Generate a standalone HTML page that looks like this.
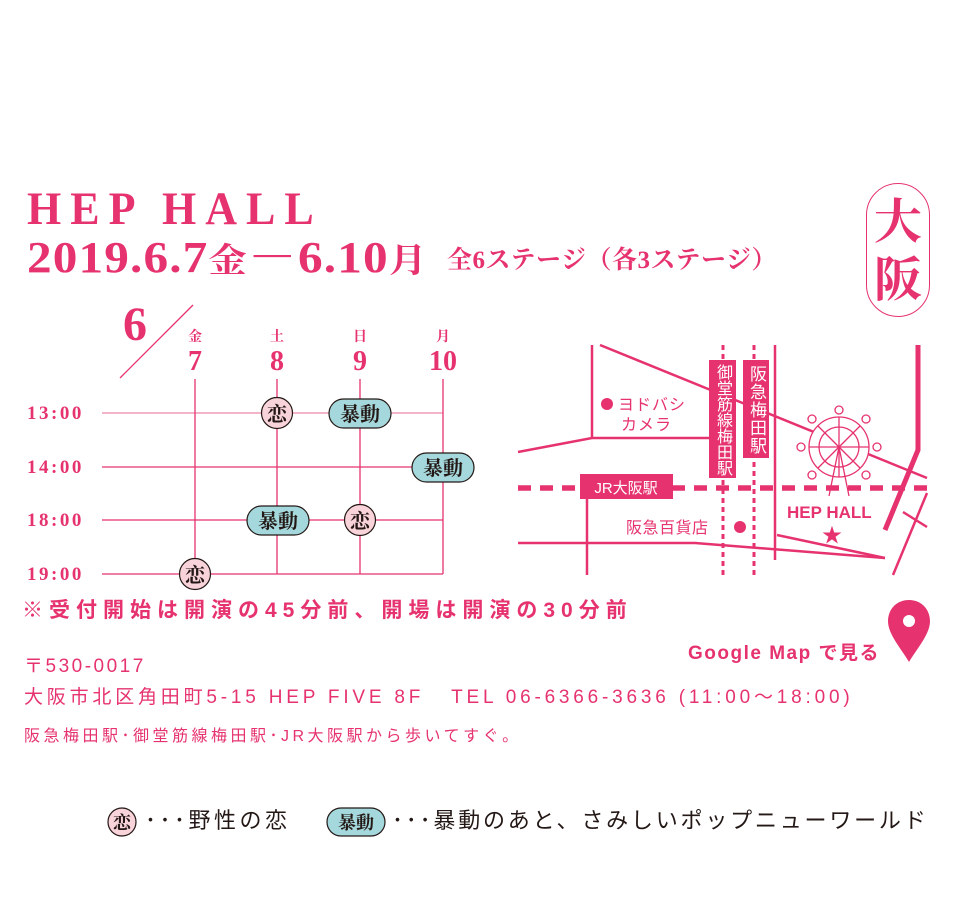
<!DOCTYPE html>
<html><head><meta charset="utf-8">
<style>
body{margin:0;width:960px;height:900px;background:#fff;position:relative;overflow:hidden;font-family:"Liberation Sans","Noto Sans CJK JP",sans-serif;color:#e6336f}
.a{position:absolute;white-space:nowrap;line-height:1}
.serif{font-family:"Liberation Serif","Noto Serif CJK SC",serif;font-weight:bold}
.v{position:absolute;writing-mode:vertical-rl;color:#fff;line-height:1;text-align:center}
</style></head><body>
<div class="a serif" style="left:27px;top:186px;font-size:44px;letter-spacing:9px;transform:scaleY(1.05);transform-origin:left top">HEP HALL</div>
<div class="a serif" style="left:27px;top:236px;font-size:44px;letter-spacing:1px;transform:scaleX(1.12);transform-origin:left top">2019.6.7<span style="font-size:34px">金</span>－6.10<span style="font-size:34px">月</span></div>
<div class="a serif" style="left:447px;top:248px;font-size:25px;letter-spacing:0.5px">全6ステージ（各3ステージ）</div>
<div class="a" style="left:866px;top:183px;width:62px;height:132px;border:1.5px solid #e6336f;border-radius:32px"></div>
<div class="a serif" style="left:873px;top:194px;font-size:48px;line-height:58px;width:50px;text-align:center">大<br>阪</div>

<svg class="a" style="left:0;top:0" width="960" height="900">
<g stroke="#e6336f" stroke-width="1.3" fill="none">
<line x1="120" y1="378" x2="193" y2="305"/>
<line x1="102" y1="413" x2="443" y2="413" stroke="#ee86a6"/>
<line x1="102" y1="467" x2="443" y2="467"/>
<line x1="102" y1="520" x2="443" y2="520"/>
<line x1="102" y1="574" x2="443" y2="574"/>
<line x1="195" y1="379" x2="195" y2="574"/>
<line x1="277" y1="379" x2="277" y2="574"/>
<line x1="360" y1="379" x2="360" y2="574"/>
<line x1="443" y1="379" x2="443" y2="574"/>
</g>
<g font-family="Liberation Serif,Noto Serif CJK SC,serif" font-weight="bold" fill="#e6336f" text-anchor="middle">
<text x="135" y="340" font-size="48">6</text>
<text x="195" y="341" font-size="14">金</text><text x="277" y="341" font-size="14">土</text><text x="360" y="341" font-size="14">日</text><text x="443" y="341" font-size="14">月</text>
<text x="195" y="370" font-size="28">7</text><text x="277" y="370" font-size="28">8</text><text x="360" y="370" font-size="28">9</text><text x="443" y="370" font-size="28">10</text>
<g text-anchor="start" font-size="19" letter-spacing="2.5"><text x="27" y="419">13:00</text><text x="27" y="473">14:00</text><text x="27" y="526">18:00</text><text x="27" y="580">19:00</text></g>
</g>
<g stroke="#231815" stroke-width="1.2">
<circle cx="277" cy="413" r="15.5" fill="#f8d3da"/>
<circle cx="360" cy="520" r="15.5" fill="#f8d3da"/>
<circle cx="195" cy="574" r="15.5" fill="#f8d3da"/>
<circle cx="122" cy="822" r="14" fill="#f8d3da"/>
<rect x="329" y="399" width="62" height="29" rx="14.5" fill="#a5d8dc"/>
<rect x="412" y="453" width="62" height="29" rx="14.5" fill="#a5d8dc"/>
<rect x="247" y="506" width="62" height="29" rx="14.5" fill="#a5d8dc"/>
<rect x="327" y="808" width="58" height="28" rx="14" fill="#a5d8dc"/>
</g>
<g font-family="Liberation Serif,Noto Serif CJK SC,serif" font-weight="bold" fill="#231815" text-anchor="middle">
<text x="277" y="421" font-size="20">恋</text><text x="360" y="528" font-size="20">恋</text><text x="195" y="582" font-size="20">恋</text><text x="122" y="829" font-size="18">恋</text>
<text x="360" y="421" font-size="20">暴動</text><text x="443" y="475" font-size="20">暴動</text><text x="278" y="528" font-size="20">暴動</text><text x="356" y="829" font-size="18">暴動</text>
</g>
<g stroke="#e6336f" fill="none" stroke-width="2.5">
<polyline points="600,345 927,478"/>
<polyline points="518,452 592,438 713,438"/>
<line x1="592" y1="345" x2="592" y2="438"/>
<line x1="775" y1="345" x2="775" y2="560"/>
<line x1="587" y1="499" x2="587" y2="575"/>
<polyline points="518,543 695,543 885,558"/>
<line x1="777" y1="535" x2="885" y2="558"/>
<line x1="903" y1="512" x2="927" y2="527"/>
<line x1="927" y1="493" x2="893" y2="575"/>
<polyline points="918,345 918,450 885,530" stroke-width="5"/>
<line x1="518" y1="488" x2="927" y2="488" stroke-width="5.5" stroke-dasharray="13,9"/>
<line x1="723" y1="345" x2="723" y2="575" stroke-width="3" stroke-dasharray="5,4"/>
<line x1="754" y1="345" x2="754" y2="575" stroke-width="3" stroke-dasharray="5,4"/>
</g>
<g stroke="#e6336f" fill="#fff" stroke-width="1.3">
<circle cx="839" cy="447" r="30"/>
<circle cx="839" cy="447" r="20" fill="none"/>
<g fill="none"><line x1="809" y1="447" x2="869" y2="447"/><line x1="839" y1="417" x2="839" y2="477"/><line x1="818" y1="426" x2="860" y2="468"/><line x1="860" y1="426" x2="818" y2="468"/>
<line x1="839" y1="447" x2="829" y2="496"/><line x1="839" y1="447" x2="849" y2="496"/></g>
<circle cx="839" cy="410" r="4"/><circle cx="812" cy="419" r="4"/><circle cx="866" cy="419" r="4"/><circle cx="801" cy="447" r="4"/><circle cx="877" cy="447" r="4"/><circle cx="812" cy="475" r="4"/><circle cx="866" cy="475" r="4"/>
</g>
<rect x="709" y="360" width="27" height="118" fill="#e6336f"/>
<rect x="743" y="360" width="26" height="98" fill="#e6336f"/>
<rect x="580" y="474" width="93" height="25" fill="#e6336f"/>
<circle cx="607" cy="404" r="6" fill="#e6336f"/>
<circle cx="740" cy="527" r="6" fill="#e6336f"/>
<text x="832" y="542" font-size="20" fill="#e6336f" text-anchor="middle">★</text>
<g font-family="Liberation Sans,Noto Sans CJK JP,sans-serif" fill="#e6336f">
<text x="618" y="410" font-size="16" letter-spacing="1">ヨドバシ</text>
<text x="621" y="430" font-size="16" letter-spacing="1">カメラ</text>
<text x="626" y="533" font-size="16" letter-spacing="0.5">阪急百貨店</text>
<text x="787" y="518" font-size="17" font-weight="bold">HEP HALL</text>
</g>
<text x="626" y="493" font-family="Liberation Sans,Noto Sans CJK JP,sans-serif" fill="#fff" font-size="15" text-anchor="middle">JR大阪駅</text>
<path d="M909,600 C896,600 888,610 888,621 C888,634 900,647 909,662 C918,647 930,634 930,621 C930,610 922,600 909,600Z" fill="#e6336f"/>
<circle cx="909" cy="621" r="6" fill="#fff"/>
</svg>
<div class="v" style="left:714px;top:363px;font-size:16px;line-height:17px;height:114px;width:17px;letter-spacing:0">御堂筋線梅田駅</div>
<div class="v" style="left:747px;top:363px;font-size:17px;line-height:18px;height:94px;width:18px;letter-spacing:1px">阪急梅田駅</div>

<div class="a" style="left:22px;top:600px;font-size:21px;font-weight:bold;letter-spacing:6px">※受付開始は開演の45分前、開場は開演の30分前</div>
<div class="a" style="left:688px;top:644px;font-size:19px;font-weight:bold;letter-spacing:1.5px">Google Map で見る</div>
<div class="a" style="left:24px;top:657px;font-size:19px;letter-spacing:2.5px">〒530-0017</div>
<div class="a" style="left:24px;top:688px;font-size:19px;letter-spacing:3.8px">大阪市北区角田町5-15 HEP FIVE 8F&nbsp;&nbsp; TEL 06-6366-3636 (11:00〜18:00)</div>
<div class="a" style="left:24px;top:729px;font-size:16px;letter-spacing:3.5px">阪急梅田駅･御堂筋線梅田駅･JR大阪駅から歩いてすぐ。</div>
<div class="a" style="left:145px;top:810px;font-size:22px;color:#231815;letter-spacing:3.5px">･･･野性の恋</div>
<div class="a" style="left:392px;top:810px;font-size:22px;color:#231815;letter-spacing:2.8px">･･･暴動のあと、さみしいポップニューワールド</div>
</body></html>
